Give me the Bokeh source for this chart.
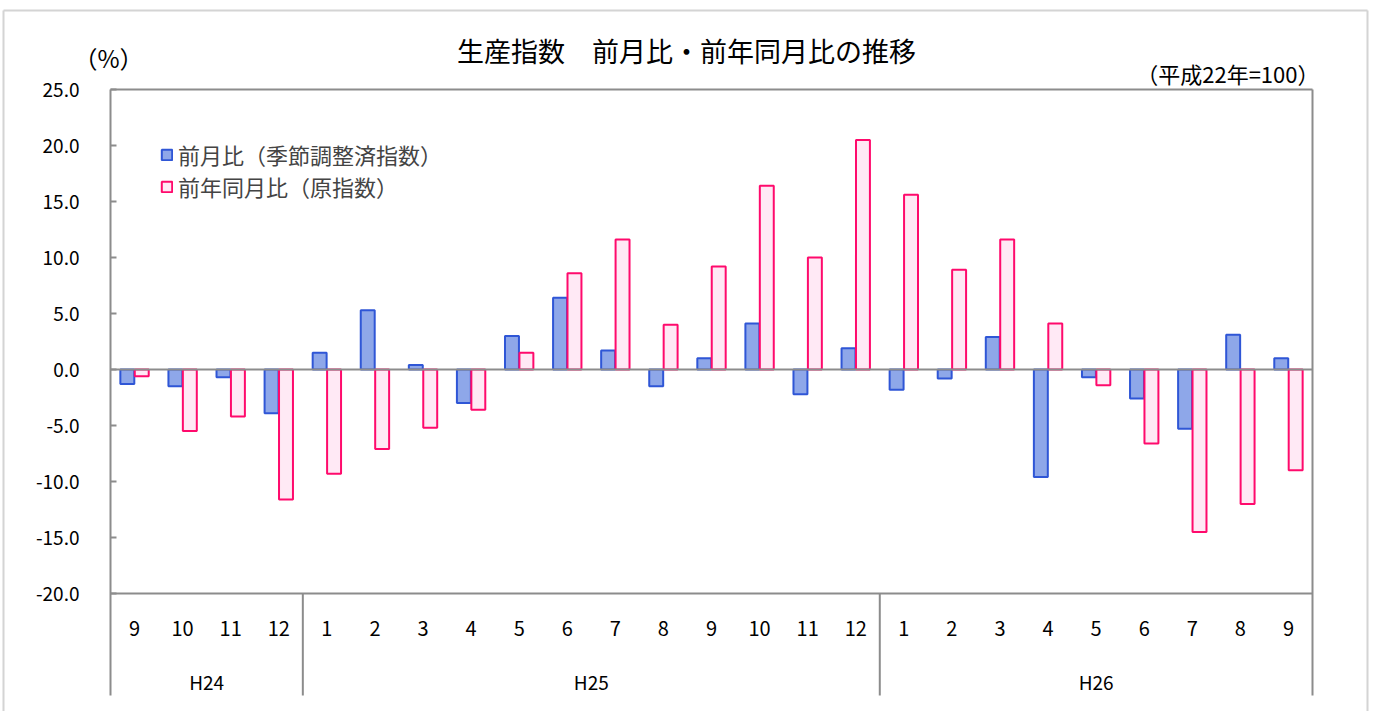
from bokeh.plotting import figure
from bokeh.models import (ColumnDataSource, Range1d, FixedTicker, NumeralTickFormatter,
                          Legend, LegendItem)
from bokeh.transform import dodge
from bokeh.core.properties import value
from bokeh.embed import file_html
from bokeh.resources import INLINE

# ---- data ----
years = ["H24"] * 4 + ["H25"] * 12 + ["H26"] * 9
months = ["9", "10", "11", "12",
          "1", "2", "3", "4", "5", "6", "7", "8", "9", "10", "11", "12",
          "1", "2", "3", "4", "5", "6", "7", "8", "9"]
mom = [-1.3, -1.5, -0.7, -3.9,
       1.5, 5.3, 0.4, -3.0, 3.0, 6.4, 1.7, -1.5, 1.0, 4.1, -2.2, 1.9,
       -1.8, -0.8, 2.9, -9.6, -0.7, -2.6, -5.3, 3.1, 1.0]
yoy = [-0.6, -5.5, -4.2, -11.6,
       -9.3, -7.1, -5.2, -3.6, 1.5, 8.6, 11.6, 4.0, 9.2, 16.4, 10.0, 20.5,
       15.6, 8.9, 11.6, 4.1, -1.4, -6.6, -14.5, -12.0, -9.0]
y_ticks = [-20, -15, -10, -5, 0, 5, 10, 15, 20, 25]
series_names = ["前月比（季節調整済指数）", "前年同月比（原指数）"]
title_text = "生産指数　前月比・前年同月比の推移"
unit_text = "（%）"
base_text = "（平成22年=100）"

FONT = "Noto Sans CJK JP"
GRAY = "#8c8c8c"
BLUE_FILL, BLUE_LINE = "#8EA7E9", "#2F56D6"
PINK_FILL, PINK_LINE = "#FFE9F5", "#FF0A6C"

W, H = 1373, 711
n = len(months)
y_min, y_max = min(y_ticks), max(y_ticks)

# layout geometry (pixels) -> data helpers
PL, PR, PT, PB = 110, 1312, 89, 695
KX = (PR - PL) / n
KY = 11.2


def X(px):
    return -0.5 + (px - PL) / KX


def Y(py):
    return y_max - (py - PT) / KY


y_bottom = Y(PB)

idx = list(range(n))
src = ColumnDataSource(dict(x=idx, mom=mom, yoy=yoy, month=months))

p = figure(width=W, height=H, output_backend="svg", toolbar_location=None,
           x_range=Range1d(X(0), X(W)), y_range=Range1d(Y(H), Y(0)),
           x_axis_location=None,
           min_border_left=0, min_border_right=0, min_border_top=0, min_border_bottom=0)
p.outline_line_color = None
p.xgrid.visible = False
p.ygrid.visible = False
p.background_fill_color = "white"
p.border_fill_color = "white"

ya = p.yaxis[0]
ya.fixed_location = -0.5
ya.bounds = (y_bottom, y_max)
ya.ticker = FixedTicker(ticks=y_ticks)
ya.formatter = NumeralTickFormatter(format="0.0")
ya.major_label_text_font = FONT
ya.major_label_text_font_size = "19px"
ya.major_label_text_color = "black"
ya.axis_line_color = GRAY
ya.axis_line_width = 2
ya.major_tick_line_color = GRAY
ya.major_tick_line_width = 2
ya.major_tick_in = 6
ya.major_tick_out = 0
ya.minor_tick_line_color = None
ya.major_label_standoff = 31

# outer chart border (light)
p.segment(x0=[X(3), X(3), X(1367)], x1=[X(1367), X(3), X(1367)],
          y0=[Y(10), Y(10), Y(10)], y1=[Y(10), Y(H + 5), Y(H + 5)],
          line_color="#d4d4d4", line_width=2)

r_mom = p.vbar(x=dodge("x", -0.15, range=p.x_range), top="mom", bottom=0, width=0.29,
               source=src, fill_color=BLUE_FILL, line_color=BLUE_LINE, line_width=2)
r_yoy = p.vbar(x=dodge("x", 0.15, range=p.x_range), top="yoy", bottom=0, width=0.29,
               source=src, fill_color=PINK_FILL, line_color=PINK_LINE, line_width=2)

# zero line and x axis line
p.segment(x0=[-0.5, -0.5], x1=[n - 0.5, n - 0.5], y0=[0, y_min], y1=[0, y_min],
          line_color=GRAY, line_width=2)
# top border and right border
p.segment(x0=[-0.5, n - 0.5], x1=[n - 0.5, n - 0.5], y0=[y_max, y_max], y1=[y_max, y_bottom],
          line_color=GRAY, line_width=2)

# group separators and year labels
bounds = [i - 0.5 for i in range(1, n) if years[i] != years[i - 1]]
p.segment(x0=bounds, x1=bounds, y0=[y_min] * len(bounds), y1=[y_bottom] * len(bounds),
          line_color=GRAY, line_width=2)

groups = []
for i, yname in enumerate(years):
    if not groups or groups[-1][0] != yname:
        groups.append([yname, i, i])
    else:
        groups[-1][2] = i
gx = [(a + b) / 2 for _, a, b in groups]
gl = [g[0] for g in groups]

p.text(x="x", y=Y(628), text="month", source=src, text_align="center", text_baseline="middle",
       text_font=value(FONT), text_font_size="20px", text_color="black")
p.text(x=gx, y=[Y(681)] * len(gx), text=gl, text_align="center", text_baseline="middle",
       text_font=value(FONT), text_font_size="19px", text_color="black")

# titles
p.text(x=[X(686)], y=[Y(50)], text=[title_text], text_align="center", text_baseline="middle",
       text_font=value(FONT), text_font_size="27px", text_color="black")
p.text(x=[X(108)], y=[Y(57)], text=[unit_text], text_align="center", text_baseline="middle",
       text_font=value(FONT), text_font_size="24px", text_color="black")
p.text(x=[X(1319)], y=[Y(72)], text=[base_text], text_align="right", text_baseline="middle",
       text_font=value(FONT), text_font_size="22px", text_color="black")

legend = Legend(items=[LegendItem(label=series_names[0], renderers=[r_mom]),
                       LegendItem(label=series_names[1], renderers=[r_yoy])],
                location=(160, H - 202), margin=0, padding=0, spacing=0,
                label_height=20, glyph_height=13, glyph_width=13, label_standoff=5,
                label_text_font=FONT, label_text_font_size="22px",
                background_fill_alpha=0, border_line_color=None)
p.add_layout(legend)

open("out.html", "w").write(file_html(p, INLINE))
